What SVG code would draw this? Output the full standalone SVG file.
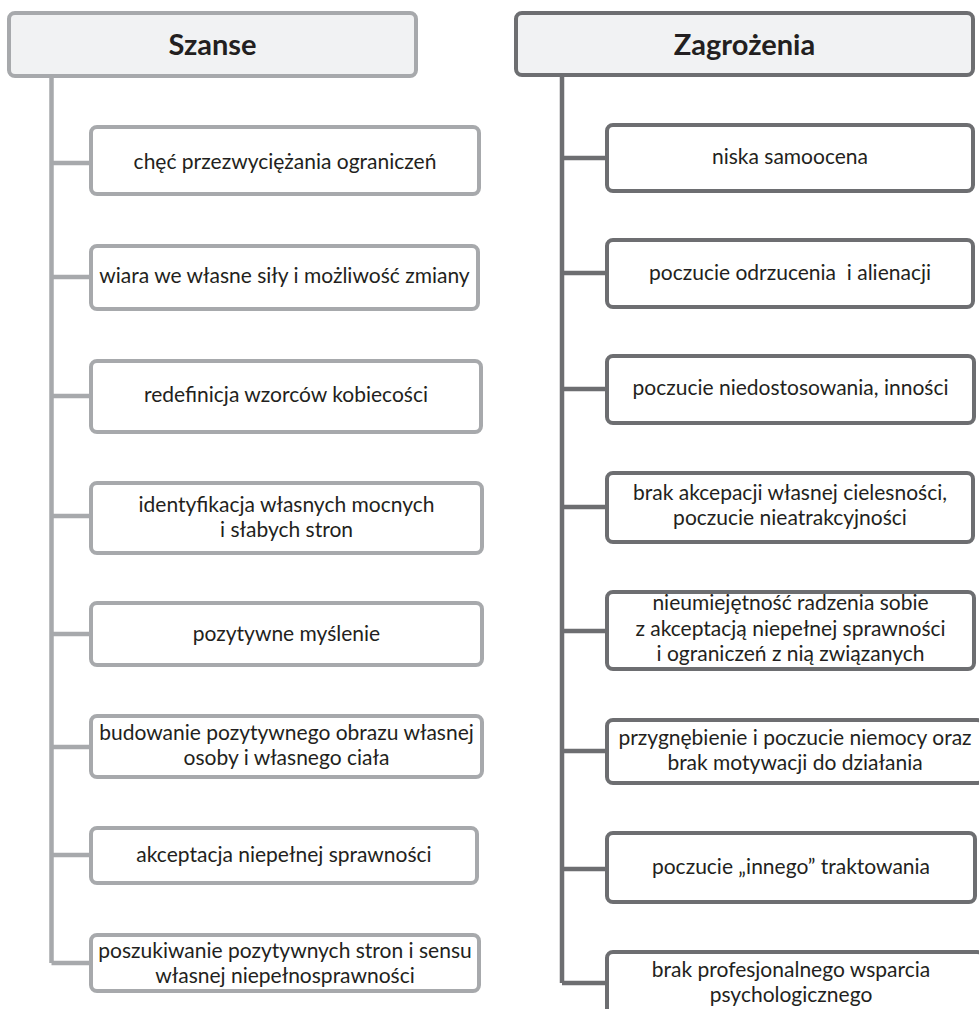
<svg xmlns="http://www.w3.org/2000/svg" width="979" height="1009" viewBox="0 0 979 1009">
<style>
.txt{font-family:Lato,"Open Sans","Liberation Sans",sans-serif;font-size:21px;fill:#231f20;text-anchor:middle}
.hdr{font-family:Lato,"Open Sans","Liberation Sans",sans-serif;font-size:29px;font-weight:bold;fill:#231f20;text-anchor:middle}
.bl{fill:#ffffff;stroke:#a7a9ac;stroke-width:4}
.br{fill:#ffffff;stroke:#6d6e71;stroke-width:4}
.hl{fill:#f1f2f3;stroke:#a7a9ac;stroke-width:4}
.hr{fill:#f1f2f3;stroke:#6d6e71;stroke-width:4}
.cl{stroke:#a7a9ac;stroke-width:4.5;fill:none}
.cr{stroke:#6d6e71;stroke-width:4.5;fill:none}
</style>
<rect width="979" height="1009" fill="#ffffff"/>
<g id="connectors">
<path class="cl" d="M51.5 76 V963 M51.5 163 H91 M51.5 277 H91 M51.5 396 H91 M51.5 516 H91 M51.5 634 H91 M51.5 747 H91 M51.5 855 H91 M51.5 963 H91"/>
<path class="cr" d="M562 75 V983 M562 158 H607 M562 273 H607 M562 389 H607 M562 507 H607 M562 631 H607 M562 751 H607 M562 869 H607 M562 983 H607"/>
</g>
<g id="szanse">
<rect class="hl" x="9" y="13" width="407" height="63" rx="6"/>
<text class="hdr" x="212.5" y="55">Szanse</text>
</g>
<g id="zagrozenia">
<rect class="hr" x="516" y="13" width="457" height="62" rx="6"/>
<text class="hdr" x="744.5" y="55">Zagrożenia</text>
</g>
<g id="s1"><rect class="bl" x="91" y="127" width="388" height="67" rx="6"/><text class="txt" x="285" y="168.5">chęć przezwyciężania ograniczeń</text></g>
<g id="s2"><rect class="bl" x="91" y="246" width="387" height="63" rx="6"/><text class="txt" x="284.5" y="283">wiara we własne siły i możliwość zmiany</text></g>
<g id="s3"><rect class="bl" x="91" y="361" width="390" height="71" rx="6"/><text class="txt" x="286" y="402">redefinicja wzorców kobiecości</text></g>
<g id="s4"><rect class="bl" x="91" y="483" width="391" height="70" rx="6"/><text class="txt" x="286.5" y="512">identyfikacja własnych mocnych<tspan x="286.5" y="537">i słabych stron</tspan></text></g>
<g id="s5"><rect class="bl" x="91" y="603" width="391" height="62" rx="6"/><text class="txt" x="286.5" y="640.5">pozytywne myślenie</text></g>
<g id="s6"><rect class="bl" x="91" y="716" width="391" height="61" rx="6"/><text class="txt" x="286.5" y="739.5">budowanie pozytywnego obrazu własnej<tspan x="286.5" y="765">osoby i własnego ciała</tspan></text></g>
<g id="s7"><rect class="bl" x="91" y="828" width="386" height="55" rx="6"/><text class="txt" x="284" y="861.5">akceptacja niepełnej sprawności</text></g>
<g id="s8"><rect class="bl" x="91" y="935" width="388" height="56" rx="6"/><text class="txt" x="285" y="957.5">poszukiwanie pozytywnych stron i sensu<tspan x="285" y="982.5">własnej niepełnosprawności</tspan></text></g>
<g id="z1"><rect class="br" x="607" y="125" width="366" height="66" rx="6"/><text class="txt" x="790" y="163.5">niska samoocena</text></g>
<g id="z2"><rect class="br" x="607" y="240" width="366" height="67" rx="6"/><text class="txt" x="790" y="280" xml:space="preserve">poczucie odrzucenia  i alienacji</text></g>
<g id="z3"><rect class="br" x="607" y="356" width="367" height="67" rx="6"/><text class="txt" x="790.5" y="395">poczucie niedostosowania, inności</text></g>
<g id="z4"><rect class="br" x="607" y="473" width="366" height="69" rx="6"/><text class="txt" x="790" y="500">brak akcepacji własnej cielesności,<tspan x="790" y="525">poczucie nieatrakcyjności</tspan></text></g>
<g id="z5"><rect class="br" x="607" y="592" width="367" height="77" rx="6"/><text class="txt" x="790.5" y="610">nieumiejętność radzenia sobie<tspan x="790.5" y="636">z akceptacją niepełnej sprawności</tspan><tspan x="790.5" y="661">i ograniczeń z nią związanych</tspan></text></g>
<g id="z6"><rect class="br" x="607" y="720" width="376" height="63" rx="6"/><text class="txt" x="795" y="745">przygnębienie i poczucie niemocy oraz<tspan x="795" y="769.5">brak motywacji do działania</tspan></text></g>
<g id="z7"><rect class="br" x="607" y="833" width="368" height="69" rx="6"/><text class="txt" x="791" y="873.5">poczucie „innego” traktowania</text></g>
<g id="z8"><rect class="br" x="607" y="952" width="376" height="70" rx="6"/><text class="txt" x="791" y="977">brak profesjonalnego wsparcia<tspan x="791" y="1002">psychologicznego</tspan></text></g>
</svg>
